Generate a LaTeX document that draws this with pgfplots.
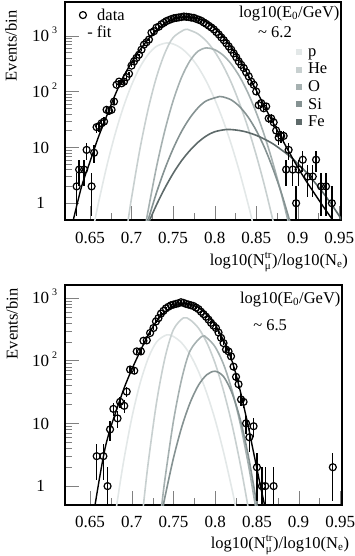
\documentclass[border=0pt]{standalone}
\usepackage{fontspec}
\setmainfont{Liberation Serif}
\usepackage{pgfplots}
\usepackage{pgfplotstable}
\pgfplotsset{compat=1.18}

\newcommand\fsz{\fontsize{16.5}{18}\selectfont}
\newcommand\tsz{\fontsize{17}{18}\selectfont}
\newcommand\ssz{\fontsize{11}{11}\selectfont}
\newcommand\esz{\fontsize{10}{10}\selectfont}

\definecolor{pcol}{HTML}{E3E8E8}
\definecolor{hecol}{HTML}{C8D0D0}
\definecolor{ocol}{HTML}{A6B1B1}
\definecolor{sicol}{HTML}{859292}
\definecolor{fecol}{HTML}{5E6A6A}

% data: bin centre and events per bin
\pgfplotstableread{
x N
0.634 2
0.637 4
0.643 4
0.646 9
0.652 2
0.655 8
0.658 23
0.661 24
0.664 27
0.667 29
0.670 47
0.673 45
0.676 47
0.679 66
0.682 132
0.685 150
0.688 140
0.691 150
0.694 180
0.697 208
0.700 290
0.703 345
0.706 400
0.709 455
0.712 560
0.715 690
0.718 760
0.721 850
0.724 1130
0.727 1200
0.730 1390
0.733 1450
0.736 1600
0.739 1700
0.742 1820
0.745 1900
0.748 1980
0.751 2050
0.754 2080
0.757 2120
0.760 2150
0.763 2200
0.766 2170
0.769 2150
0.772 2100
0.775 2080
0.778 1990
0.781 1920
0.784 1840
0.787 1720
0.790 1620
0.793 1500
0.796 1400
0.799 1290
0.802 1160
0.805 1050
0.808 930
0.811 830
0.814 730
0.817 640
0.820 560
0.823 480
0.826 410
0.829 345
0.832 300
0.835 263
0.838 220
0.841 186
0.844 150
0.847 132
0.850 100
0.853 57
0.856 62
0.859 50
0.862 54
0.865 33
0.868 33
0.871 28
0.874 20
0.877 15
0.880 16
0.883 16
0.886 4
0.889 9
0.894 4
0.898 1
0.901 4
0.906 6
0.912 3
0.918 3
0.922 6
0.928 2
0.934 2
0.941 1
}\dataA

\pgfplotstableread{
x N
0.658 3
0.666 3
0.671 1
0.674 8
0.678 17
0.683 12
0.686 22
0.691 19
0.694 32
0.698 72
0.703 69
0.706 140
0.711 140
0.714 207
0.718 210
0.722 275
0.726 330
0.729 420
0.732 475
0.735 560
0.738 620
0.741 680
0.744 720
0.747 760
0.750 780
0.753 800
0.756 820
0.759 850
0.762 830
0.765 800
0.768 780
0.771 760
0.774 740
0.777 700
0.780 660
0.783 600
0.786 550
0.789 500
0.792 450
0.795 400
0.798 360
0.801 330
0.804 280
0.807 230
0.810 190
0.813 150
0.816 140
0.819 117
0.822 80
0.825 55
0.828 42
0.831 24
0.834 22
0.837 10
0.841 6
0.846 9
0.850 2
0.856 1
0.860 1
0.870 1
0.941 2
}\dataB

\begin{document}
\begin{tikzpicture}
\path[use as bounding box] (0pt,0pt) rectangle (355pt,-556pt);

% upper panel
\begin{axis}[at={(65pt,-2pt)}, anchor=north west,
  scale only axis, width=276pt, height=218pt,
  ymode=log, xmin=0.62, xmax=0.952, ymin=0.5, ymax=4000,
  axis line style={line width=1.5pt},
  tick pos=left, tick align=inside,
  major tick length=14pt, minor tick length=7pt,
  xtick={0.65,0.7,0.75,0.8,0.85,0.9,0.95},
  xticklabels={0.65,0.7,0.75,0.8,0.85,0.9,0.95},
  minor x tick num=1,
  ytick={1,10,100,1000},
  yticklabels={\makebox[17pt][c]{1},10,10\,\raisebox{8pt}{\esz 2},10\,\raisebox{8pt}{\esz 3}},
  xticklabel style={anchor=base, yshift=-23pt, font=\tsz, inner sep=0pt},
  yticklabel style={anchor=base west, xshift=-33pt, yshift=-5.7pt, font=\tsz, inner sep=0pt},
  xlabel={log10(N$_{\mbox{\ssz μ}}^{\mbox{\ssz tr}}$)/log10(N$_{\mbox{\ssz e}}$)},
  ylabel={Events/bin},
  xlabel style={at={(rel axis cs:1.026,0)}, anchor=base east, yshift=-45pt, font=\fsz, inner sep=0pt},
  ylabel style={at={(rel axis cs:-0.196,0.798)}, anchor=center, font=\fsz, inner sep=0pt},
]
\addplot[line width=1.6pt, smooth, no markers, pcol] coordinates {(0.650,0.17) (0.656,0.5) (0.66,0.97) (0.67,4.45) (0.68,16.7) (0.69,51.4) (0.70,130) (0.71,270) (0.72,460) (0.73,643) (0.742,740) (0.75,710) (0.76,593) (0.77,432) (0.78,275) (0.79,152) (0.80,73) (0.81,30.8) (0.82,11.3) (0.83,3.6) (0.84,1.0) (0.845,0.5) (0.85,0.24)};
\addplot[line width=1.6pt, smooth, no markers, hecol] coordinates {(0.692,0.19) (0.696,0.5) (0.70,1.23) (0.71,9.1) (0.72,48) (0.73,180) (0.74,482) (0.75,920) (0.764,1282) (0.77,1250) (0.78,1072) (0.79,800) (0.80,519) (0.81,292) (0.82,144) (0.83,61) (0.84,22.7) (0.85,7.3) (0.86,2.06) (0.87,0.5) (0.875,0.23)};
\addplot[line width=1.6pt, smooth, no markers, ocol] coordinates {(0.714,0.22) (0.718,0.5) (0.72,0.74) (0.73,4.4) (0.74,19.7) (0.75,67.6) (0.76,176) (0.77,348) (0.78,526) (0.79,603) (0.80,560) (0.81,449) (0.82,310) (0.83,185) (0.84,95) (0.85,42) (0.86,16.2) (0.87,5.3) (0.88,1.52) (0.888,0.5) (0.895,0.175)};
\addplot[line width=1.6pt, smooth, no markers, sicol] coordinates {(0.715,0.27) (0.72,0.5) (0.73,1.53) (0.74,4.06) (0.75,9.4) (0.76,19) (0.77,33.3) (0.78,51) (0.79,68) (0.806,81.3) (0.81,80) (0.82,70.6) (0.83,53.7) (0.84,35.3) (0.85,20.1) (0.86,9.9) (0.87,4.2) (0.88,1.57) (0.89,0.5) (0.895,0.27)};
\addplot[line width=1.6pt, smooth, no markers, fecol] coordinates {(0.715,0.28) (0.722,0.5) (0.73,0.93) (0.74,1.85) (0.75,3.4) (0.76,5.7) (0.77,8.7) (0.78,12.3) (0.79,16) (0.80,19) (0.815,20.9) (0.83,20) (0.84,18.5) (0.85,16.4) (0.86,14) (0.87,11.6) (0.88,9.1) (0.89,7) (0.90,5.1) (0.91,3.6) (0.92,2.4) (0.93,1.57) (0.94,0.98) (0.95,0.59) (0.96,0.34)};
\addplot[black, line width=1.4pt, smooth, no markers] coordinates {(0.627,0.3) (0.630,0.5) (0.640,2.0) (0.650,5.5) (0.660,15) (0.670,36) (0.680,85) (0.690,180) (0.700,330) (0.710,550) (0.720,860) (0.730,1250) (0.740,1650) (0.750,1950) (0.760,2130) (0.766,2160) (0.770,2150) (0.780,2030) (0.790,1750) (0.800,1350) (0.810,960) (0.820,620) (0.830,370) (0.840,200) (0.850,105) (0.860,54) (0.870,28) (0.880,15) (0.890,8) (0.900,4.4) (0.910,2.5) (0.920,1.5) (0.930,0.9) (0.942,0.5) (0.946,0.4)};
\addplot[black, only marks, mark=o, mark size=3.5pt,
  mark options={line width=1.2pt, fill=white, draw=black},
  error bars/.cd, y dir=both, y explicit,
  error bar style={line width=1.3pt, black}, error mark=none]
  table[x=x, y=N,
  y error plus expr={sqrt(\thisrow{N})},
  y error minus expr={min(sqrt(\thisrow{N}),0.99*\thisrow{N})}] {\dataA};
% key: data / fit
\node[circle, draw=black, line width=1.2pt, minimum size=7pt, inner sep=0pt] at (rel axis cs:0.065,0.940) {};
\node[anchor=base west, font=\fsz, inner sep=0pt] at (rel axis cs:0.116,0.913) {data};
\node[anchor=base west, font=\fsz, inner sep=0pt] at (rel axis cs:0.080,0.835) {- fit};
% key: primaries
\node[fill=pcol, minimum size=6pt, inner sep=0pt] at (rel axis cs:0.848,0.771) {};
\node[fill=hecol, minimum size=6pt, inner sep=0pt] at (rel axis cs:0.848,0.690) {};
\node[fill=ocol, minimum size=6pt, inner sep=0pt] at (rel axis cs:0.848,0.610) {};
\node[fill=sicol, minimum size=6pt, inner sep=0pt] at (rel axis cs:0.848,0.530) {};
\node[fill=fecol, minimum size=6pt, inner sep=0pt] at (rel axis cs:0.848,0.450) {};
\node[anchor=base west, font=\fsz, inner sep=0pt] at (rel axis cs:0.880,0.750) {p};
\node[anchor=base west, font=\fsz, inner sep=0pt] at (rel axis cs:0.880,0.670) {He};
\node[anchor=base west, font=\fsz, inner sep=0pt] at (rel axis cs:0.880,0.589) {O};
\node[anchor=base west, font=\fsz, inner sep=0pt] at (rel axis cs:0.880,0.509) {Si};
\node[anchor=base west, font=\fsz, inner sep=0pt] at (rel axis cs:0.880,0.429) {Fe};
\node[anchor=base east, font=\fsz, inner sep=0pt] at (rel axis cs:0.995,0.931) {log10(E$_{\mbox{\ssz 0}}$/GeV)};
\node[anchor=base west, font=\fsz, inner sep=0pt] at (rel axis cs:0.699,0.839) {\textasciitilde\ 6.2};
\end{axis}

% lower panel
\begin{axis}[at={(65pt,-285pt)}, anchor=north west,
  scale only axis, width=277pt, height=220pt,
  ymode=log, xmin=0.62, xmax=0.952, ymin=0.5, ymax=1600,
  axis line style={line width=1.5pt},
  tick pos=left, tick align=inside,
  major tick length=14pt, minor tick length=7pt,
  xtick={0.65,0.7,0.75,0.8,0.85,0.9,0.95},
  xticklabels={0.65,0.7,0.75,0.8,0.85,0.9,0.95},
  minor x tick num=1,
  ytick={1,10,100,1000},
  yticklabels={\makebox[17pt][c]{1},10,10\,\raisebox{8pt}{\esz 2},10\,\raisebox{8pt}{\esz 3}},
  xticklabel style={anchor=base, yshift=-22pt, font=\tsz, inner sep=0pt},
  yticklabel style={anchor=base west, xshift=-33pt, yshift=-5.7pt, font=\tsz, inner sep=0pt},
  xlabel={log10(N$_{\mbox{\ssz μ}}^{\mbox{\ssz tr}}$)/log10(N$_{\mbox{\ssz e}}$)},
  ylabel={Events/bin},
  xlabel style={at={(rel axis cs:1.026,0)}, anchor=base east, yshift=-43pt, font=\fsz, inner sep=0pt},
  ylabel style={at={(rel axis cs:-0.191,0.823)}, anchor=center, font=\fsz, inner sep=0pt},
]
\addplot[line width=1.6pt, smooth, no markers, pcol] coordinates {(0.678,0.21) (0.682,0.5) (0.69,2.37) (0.70,12.1) (0.71,43.5) (0.72,111) (0.73,200) (0.742,257) (0.75,242) (0.76,190) (0.77,124) (0.78,67) (0.79,30) (0.80,11.3) (0.81,3.5) (0.82,0.91) (0.824,0.5) (0.83,0.19)};
\addplot[line width=1.6pt, smooth, no markers, hecol] coordinates {(0.71,0.15) (0.714,0.5) (0.72,2.5) (0.73,22.7) (0.74,113) (0.75,312) (0.762,479) (0.77,445) (0.78,329) (0.79,193) (0.80,90) (0.81,33) (0.82,9.8) (0.83,2.27) (0.839,0.5) (0.845,0.165)};
\addplot[line width=1.6pt, smooth, no markers, ocol] coordinates {(0.732,0.17) (0.736,0.5) (0.74,1.35) (0.75,10.9) (0.76,51.8) (0.77,144) (0.784,243) (0.79,230) (0.80,165) (0.81,87.5) (0.82,34.3) (0.83,9.95) (0.84,2.13) (0.848,0.5) (0.852,0.23)};
\addplot[line width=1.6pt, smooth, no markers, sicol] coordinates {(0.734,0.26) (0.738,0.5) (0.74,0.69) (0.75,2.8) (0.76,8.8) (0.77,21.4) (0.78,40.6) (0.79,59.6) (0.80,67.6) (0.81,55.6) (0.82,30.8) (0.83,11.6) (0.84,2.9) (0.85,0.5) (0.854,0.22)};
\addplot[black, line width=1.4pt, smooth, no markers] coordinates {(0.653,0.3) (0.656,0.5) (0.662,1.5) (0.668,4) (0.674,8) (0.680,14) (0.686,24) (0.692,40) (0.700,72) (0.710,140) (0.720,260) (0.730,430) (0.740,600) (0.750,730) (0.760,800) (0.765,805) (0.770,790) (0.780,700) (0.790,540) (0.800,370) (0.810,210) (0.815,150) (0.820,100) (0.825,60) (0.830,33) (0.835,17) (0.840,8.5) (0.845,4) (0.850,1.9) (0.855,0.9) (0.860,0.45)};
\addplot[black, only marks, mark=o, mark size=3.5pt,
  mark options={line width=1.2pt, fill=white, draw=black},
  error bars/.cd, y dir=both, y explicit,
  error bar style={line width=1.3pt, black}, error mark=none]
  table[x=x, y=N,
  y error plus expr={sqrt(\thisrow{N})},
  y error minus expr={min(sqrt(\thisrow{N}),0.99*\thisrow{N})}] {\dataB};
\node[anchor=base east, font=\fsz, inner sep=0pt] at (rel axis cs:0.995,0.918) {log10(E$_{\mbox{\ssz 0}}$/GeV)};
\node[anchor=base west, font=\fsz, inner sep=0pt] at (rel axis cs:0.679,0.795) {\textasciitilde\ 6.5};
\end{axis}
\end{tikzpicture}
\end{document}
